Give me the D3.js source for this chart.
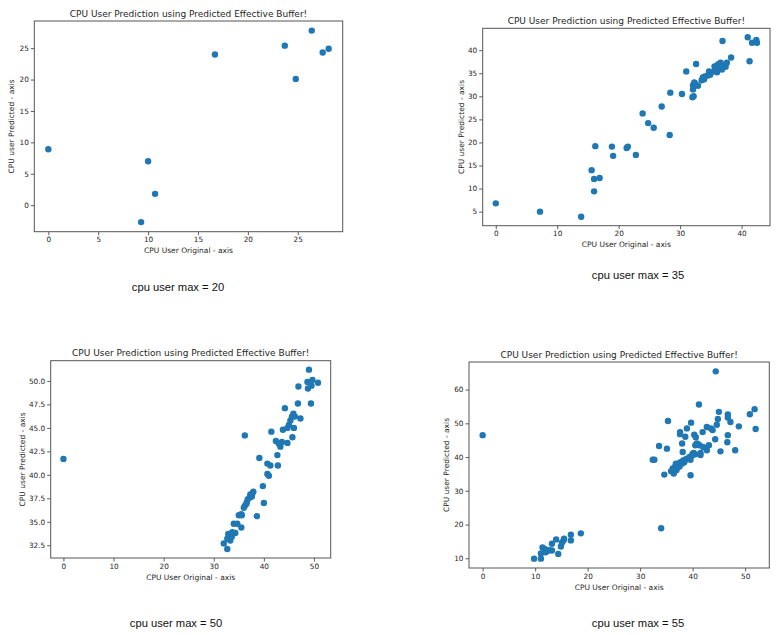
<!DOCTYPE html>
<html>
<head>
<meta charset="utf-8">
<script src="https://cdn.jsdelivr.net/npm/d3@7"></script>
<style>
  body { margin: 0; background: #fff; }
  svg text { font-family: "DejaVu Sans", sans-serif; fill: #262626; }
  svg text.caption { font-family: "Liberation Sans", Arial, sans-serif; fill: #111; }
</style>
</head>
<body>
<div id="plot"></div>
<script>
// values
const titleText = "CPU User Prediction using Predicted Effective Buffer!";
const xLabelText = "CPU User Original - axis";
const yLabelText = "CPU user Predicted - axis";
const cpuUserMax = [20, 35, 50, 55];

const p1x = [0, 9.3, 10.0, 10.7, 16.7, 23.7, 24.8, 26.4, 27.5, 28.1];
const p1y = [8.9, -2.7, 7.0, 1.8, 24.0, 25.4, 20.1, 27.8, 24.3, 24.9];
const p1xTicks = [0, 5, 10, 15, 20, 25];
const p1yTicks = [0, 5, 10, 15, 20, 25];

const p2x = [0, 7.2, 13.9, 15.6, 16.0, 16.0, 16.9, 16.2, 18.9, 19.1, 21.3, 21.5, 22.8, 23.9, 24.8, 25.7, 27.0, 28.3, 28.4,
  30.3, 31.0, 32.0, 32.2, 32.1, 32.1, 32.3, 32.5, 32.6, 32.9, 33.5, 33.7, 33.9, 34.0, 34.5, 34.7, 34.9, 35.2, 35.6, 35.8,
  36.0, 36.1, 36.3, 36.4, 36.6, 36.8, 36.9, 37.0, 37.4, 37.6, 38.3, 41.0, 41.3, 41.7, 42.4, 42.5];
const p2y = [6.8, 5.0, 3.9, 14.0, 12.1, 9.4, 12.3, 19.2, 19.1, 17.1, 18.8, 19.1, 17.3, 26.3, 24.2, 23.2, 27.8, 21.6, 30.8,
  30.5, 35.4, 29.8, 30.0, 31.5, 32.4, 33.0, 32.7, 37.0, 32.3, 33.5, 34.1, 33.7, 34.3, 34.5, 35.4, 34.7, 35.3, 36.5, 35.7,
  35.2, 36.8, 37.0, 36.2, 37.3, 35.8, 42.0, 36.6, 36.4, 37.3, 38.4, 42.8, 37.6, 41.6, 42.2, 41.6];
const p2xTicks = [0, 10, 20, 30, 40];
const p2yTicks = [5, 10, 15, 20, 25, 30, 35, 40];

const p3x = [0, 36.2, 41.5, 39.1, 40.7, 41.3, 42.8, 42.7, 40.7, 41.0, 39.8, 40.0, 38.6, 42.4, 43.0, 43.3, 43.6, 43.8, 44.2,
  44.7, 44.7, 45.0, 45.3, 45.7, 46.0, 45.6, 45.9, 46.2, 46.8, 46.9, 47.3, 48.7, 48.8, 49.0, 49.4, 49.5, 49.7, 50.8,
  37.9, 37.7, 37.3, 37.2, 36.8, 36.6, 36.2, 36.0, 35.6, 35.0, 34.7, 34.0, 35.5, 33.7, 34.3, 33.3, 33.0, 32.7, 32.0,
  32.7, 33.3, 33.6, 32.9, 35.5, 36.5, 37.6];
const p3y = [41.7, 44.2, 44.6, 41.8, 41.2, 41.0, 41.0, 42.1, 40.1, 39.9, 38.8, 37.0, 35.6, 43.6, 43.3, 43.0, 43.5, 44.8, 47.1,
  43.4, 45.0, 45.3, 45.8, 44.0, 45.0, 46.2, 46.5, 46.2, 47.6, 49.4, 46.0, 49.9, 49.2, 51.2, 47.6, 49.5, 50.1, 49.8,
  38.2, 38.0, 37.9, 37.6, 37.4, 37.1, 36.7, 36.5, 35.7, 35.7, 34.8, 34.8, 34.4, 33.9, 33.8, 33.7, 33.3, 33.2, 32.7,
  32.1, 33.0, 33.4, 33.7, 35.8, 36.9, 37.7];
const p3xTicks = [0, 10, 20, 30, 40, 50];
const p3yTicks = [32.5, 35.0, 37.5, 40.0, 42.5, 45.0, 47.5, 50.0];

const p4x = [0, 9.8, 11.1, 11.1, 11.4, 11.9, 12.2, 12.7, 13.2, 13.2, 14.0, 14.4, 14.9, 15.1, 15.4, 15.5, 16.8, 16.8, 18.7, 12.0,
  34.0, 32.4, 32.7, 33.6, 35.1, 35.3, 34.6, 37.6, 37.6, 38.0, 38.6, 38.9, 39.7, 39.6, 41.2, 40.3, 40.6, 40.8, 41.3, 41.5,
  41.5, 41.9, 42.7, 43.1, 42.7, 43.5, 43.8, 44.3, 44.6, 44.8, 44.4, 45.0, 45.3, 46.7, 46.7, 46.7, 46.6, 47.2, 48.1, 48.8,
  50.9, 51.8, 52.0,
  35.9, 36.2, 36.7, 37.0, 37.3, 37.7, 38.2, 38.6, 38.9, 39.4, 39.9, 40.2, 40.5, 39.6, 36.4, 36.9, 38.0, 38.1, 36.8, 37.5,
  38.4, 40.0, 42.0, 41.0, 40.5];
const p4y = [46.5, 9.9, 9.9, 11.4, 13.2, 12.7, 12.1, 12.4, 12.3, 14.3, 15.6, 11.3, 13.5, 14.6, 15.3, 15.8, 17.0, 15.3, 17.4, 11.8,
  18.9, 39.2, 39.2, 43.3, 42.5, 50.7, 34.8, 47.4, 46.8, 44.0, 46.0, 48.5, 50.2, 34.6, 55.6, 46.6, 45.9, 44.0, 43.5, 41.2,
  40.6, 47.4, 48.9, 43.5, 42.0, 48.5, 48.0, 45.3, 49.6, 51.3, 65.4, 53.4, 41.7, 52.6, 51.7, 46.5, 44.4, 50.4, 42.0, 49.1,
  52.7, 54.2, 48.3,
  35.8, 36.6, 37.3, 36.7, 38.1, 38.5, 39.0, 39.2, 39.5, 40.0, 40.5, 41.2, 40.8, 39.2, 35.1, 36.1, 38.1, 41.5, 38.0, 37.2,
  38.5, 41.0, 43.0, 43.8, 43.5];
const p4xTicks = [0, 10, 20, 30, 40, 50];
const p4yTicks = [10, 20, 30, 40, 50, 60];

// layout of the four screenshots on the page
const panels = [
  { xs: p1x, ys: p1y, xt: p1xTicks, yt: p1yTicks, fmt: d3.format("d"),
    left: 34.3, right: 342.7, top: 21, bottom: 231.7, ylabX: 11, capX: 178, capY: 287 },
  { xs: p2x, ys: p2y, xt: p2xTicks, yt: p2yTicks, fmt: d3.format("d"),
    left: 482.7, right: 770, top: 28.3, bottom: 225.7, ylabX: 461.7, capX: 638, capY: 275 },
  { xs: p3x, ys: p3y, xt: p3xTicks, yt: p3yTicks, fmt: d3.format(".1f"),
    left: 50.7, right: 330.7, top: 360.7, bottom: 558, ylabX: 22.3, capX: 176, capY: 622.7 },
  { xs: p4x, ys: p4y, xt: p4xTicks, yt: p4yTicks, fmt: d3.format("d"),
    left: 469, right: 769.3, top: 362, bottom: 568, ylabX: 446.7, capX: 638, capY: 622.7 }
];

const svg = d3.select("div#plot")
  .append("svg")
  .attr("width", 780)
  .attr("height", 635);

// matplotlib style 5% margins around the data
function padded(values) {
  const ext = d3.extent(values);
  const pad = (ext[1] - ext[0]) * 0.05;
  return [ext[0] - pad, ext[1] + pad];
}

panels.forEach(function(p, i) {
  const x = d3.scaleLinear().domain(padded(p.xs)).range([p.left, p.right]);
  const y = d3.scaleLinear().domain(padded(p.ys)).range([p.bottom, p.top]);
  const g = svg.append("g");

  const xAxis = g.append("g")
    .attr("transform", `translate(0, ${p.bottom})`)
    .call(d3.axisBottom(x).tickValues(p.xt).tickFormat(d3.format("d")).tickSize(3.5).tickPadding(2));
  const yAxis = g.append("g")
    .attr("transform", `translate(${p.left}, 0)`)
    .call(d3.axisLeft(y).tickValues(p.yt).tickFormat(p.fmt).tickSize(3.5).tickPadding(2));

  [xAxis, yAxis].forEach(function(a) {
    a.select(".domain").remove();
    a.selectAll(".tick line").attr("stroke", "#333").attr("stroke-width", 0.8);
    a.selectAll(".tick text").style("font-size", "7.3px").style("font-family", null).attr("fill", "#333");
  });

  g.append("rect")
    .attr("x", p.left)
    .attr("y", p.top)
    .attr("width", p.right - p.left)
    .attr("height", p.bottom - p.top)
    .attr("fill", "none")
    .attr("stroke", "#555")
    .attr("stroke-width", 1);

  g.selectAll("circle")
    .data(p.xs.map(function(d, k) { return [d, p.ys[k]]; }))
    .join("circle")
    .attr("cx", function(d) { return x(d[0]); })
    .attr("cy", function(d) { return y(d[1]); })
    .attr("r", 3.2)
    .attr("fill", "#1f77b4");

  const midX = (p.left + p.right) / 2;
  g.append("text")
    .attr("x", midX)
    .attr("y", p.top - 4.3)
    .attr("text-anchor", "middle")
    .style("font-size", "9px")
    .text(titleText);

  g.append("text")
    .attr("x", midX)
    .attr("y", p.bottom + 21.5)
    .attr("text-anchor", "middle")
    .style("font-size", "7.5px")
    .text(xLabelText);

  g.append("text")
    .attr("transform", `translate(${p.ylabX + 2.5}, ${(p.top + p.bottom) / 2}) rotate(-90)`)
    .attr("text-anchor", "middle")
    .style("font-size", "7.5px")
    .text(yLabelText);

  g.append("text")
    .attr("class", "caption")
    .attr("x", p.capX)
    .attr("y", p.capY + 4)
    .attr("text-anchor", "middle")
    .style("font-size", "11.2px")
    .text("cpu user max = " + cpuUserMax[i]);
});
</script>
</body>
</html>
